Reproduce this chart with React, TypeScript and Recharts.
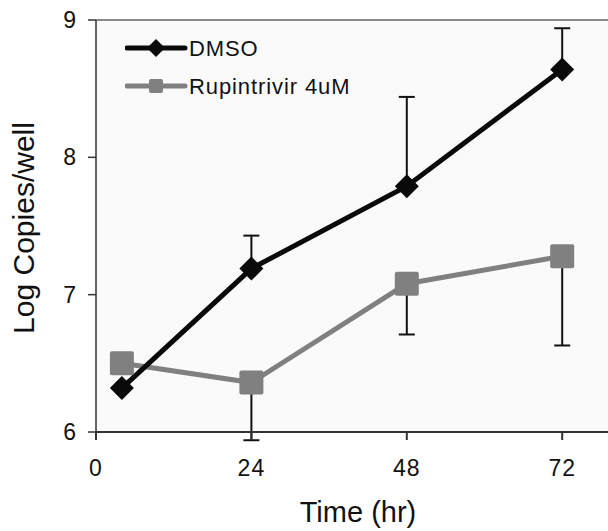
import {
  LineChart,
  Line,
  XAxis,
  YAxis,
  ErrorBar,
  CartesianGrid,
  ReferenceLine,
  Legend,
} from "recharts";

// values
const hours = [4, 24, 48, 72];
const dmso = [6.32, 7.19, 7.79, 8.64];
const dmsoErrUp = [0, 0.24, 0.65, 0.3];
const rupi = [6.5, 6.36, 7.08, 7.28];
const rupiErrDown = [0, 0.42, 0.37, 0.65];

const xTicks = [0, 24, 48, 72];
const yTicks = [6, 7, 8, 9];

const seriesNames = ["DMSO", "Rupintrivir 4uM"];
const seriesColors = ["#0a0a0a", "#808080"];

const FONT = '"Liberation Sans", Arial, sans-serif';

const data = hours.map((h, i) => ({
  hour: h,
  dmso: dmso[i],
  dmsoErr: [0, dmsoErrUp[i]],
  rupi: rupi[i],
  rupiErr: [rupiErrDown[i], 0],
}));

const Diamond = (props: any) => {
  const { cx, cy, r = 12, fill = "#0a0a0a" } = props;
  if (cx == null || cy == null) return null;
  return (
    <polygon
      points={`${cx},${cy - r} ${cx + r},${cy} ${cx},${cy + r} ${cx - r},${cy}`}
      fill={fill}
    />
  );
};

const Square = (props: any) => {
  const { cx, cy, s = 24, fill = "#808080" } = props;
  if (cx == null || cy == null) return null;
  return <rect x={cx - s / 2} y={cy - s / 2} width={s} height={s} rx={2} fill={fill} />;
};

const renderLegend = () => (
  <svg width={260} height={70} style={{ display: "block" }}>
    {seriesNames.map((name, i) => {
      const y = 14 + i * 38;
      return (
        <g key={name}>
          <line x1={2} x2={60} y1={y} y2={y} stroke={seriesColors[i]} strokeWidth={5} strokeLinecap="round" />
          {i === 0 ? (
            <Diamond cx={31} cy={y} r={9} fill={seriesColors[i]} />
          ) : (
            <Square cx={31} cy={y} s={14} fill={seriesColors[i]} />
          )}
          <text x={64} y={y + 8} fontSize={22} letterSpacing={0.9} fill="#111" fontFamily={FONT}>
            {name}
          </text>
        </g>
      );
    })}
  </svg>
);

const tickStyle = { fontSize: 23, fill: "#111", fontFamily: FONT, letterSpacing: 1 };

export default function App() {
  return (
    <div
      style={{
        position: "absolute",
        left: 0,
        top: 0,
        width: 608,
        height: 531,
        overflow: "hidden",
        background: "#fff",
        fontFamily: FONT,
      }}
    >
      {/* error bars may reach below the axis, as in the figure */}
      <style>{`.err-line g, .err-line [clip-path], .recharts-errorBars { clip-path: none !important; }`}</style>
      <LineChart width={622} height={531} data={data} margin={{ top: 20, right: 8, left: 0, bottom: 0 }}>
        <CartesianGrid fill="#fafafa" stroke="none" horizontal={false} vertical={false} />
        <ReferenceLine y={9} stroke="#8a8a8a" strokeWidth={2} ifOverflow="visible" />
        <XAxis
          dataKey="hour"
          type="number"
          domain={[0, 80]}
          ticks={xTicks}
          height={99}
          stroke="#333"
          strokeWidth={2}
          tickSize={8}
          tickMargin={20}
          fontSize={23}
          tick={tickStyle}
          label={{
            value: "Time (hr)",
            position: "insideBottom",
            offset: 9,
            dx: 3,
            fontSize: 29,
            fill: "#111",
            fontFamily: FONT,
          }}
        />
        <YAxis
          type="number"
          domain={[6, 9]}
          ticks={yTicks}
          allowDataOverflow
          width={96}
          stroke="#333"
          strokeWidth={1.5}
          tickSize={8}
          tickMargin={11}
          fontSize={23}
          tick={tickStyle}
          label={{
            value: "Log Copies/well",
            angle: -90,
            position: "insideLeft",
            offset: 23,
            dy: 2,
            fontSize: 30,
            fill: "#111",
            fontFamily: FONT,
            style: { textAnchor: "middle" },
          }}
        />
        <Legend
          layout="vertical"
          align="center"
          verticalAlign="middle"
          content={renderLegend}
          wrapperStyle={{ left: 125, top: 34, width: 260, height: 70 }}
        />
        {/* invisible carriers so the error bars sit behind lines and markers */}
        <Line
          className="err-line"
          dataKey="rupi"
          stroke="none"
          dot={false}
          activeDot={false}
          legendType="none"
          isAnimationActive={false}
        >
          <ErrorBar dataKey="rupiErr" direction="y" width={8} stroke="#111" strokeWidth={2} zIndex={100} />
        </Line>
        <Line
          className="err-line"
          dataKey="dmso"
          stroke="none"
          dot={false}
          activeDot={false}
          legendType="none"
          isAnimationActive={false}
        >
          <ErrorBar dataKey="dmsoErr" direction="y" width={8} stroke="#111" strokeWidth={2} zIndex={100} />
        </Line>
        <Line
          dataKey="rupi"
          name={seriesNames[1]}
          stroke={seriesColors[1]}
          strokeWidth={5}
          isAnimationActive={false}
          dot={(p: any) => <Square key={`r${p.index}`} cx={p.cx} cy={p.cy} s={24} fill={seriesColors[1]} />}
          activeDot={false}
        />
        <Line
          dataKey="dmso"
          name={seriesNames[0]}
          stroke={seriesColors[0]}
          strokeWidth={5}
          isAnimationActive={false}
          dot={(p: any) => <Diamond key={`d${p.index}`} cx={p.cx} cy={p.cy} r={12} fill={seriesColors[0]} />}
          activeDot={false}
        />
      </LineChart>
    </div>
  );
}
